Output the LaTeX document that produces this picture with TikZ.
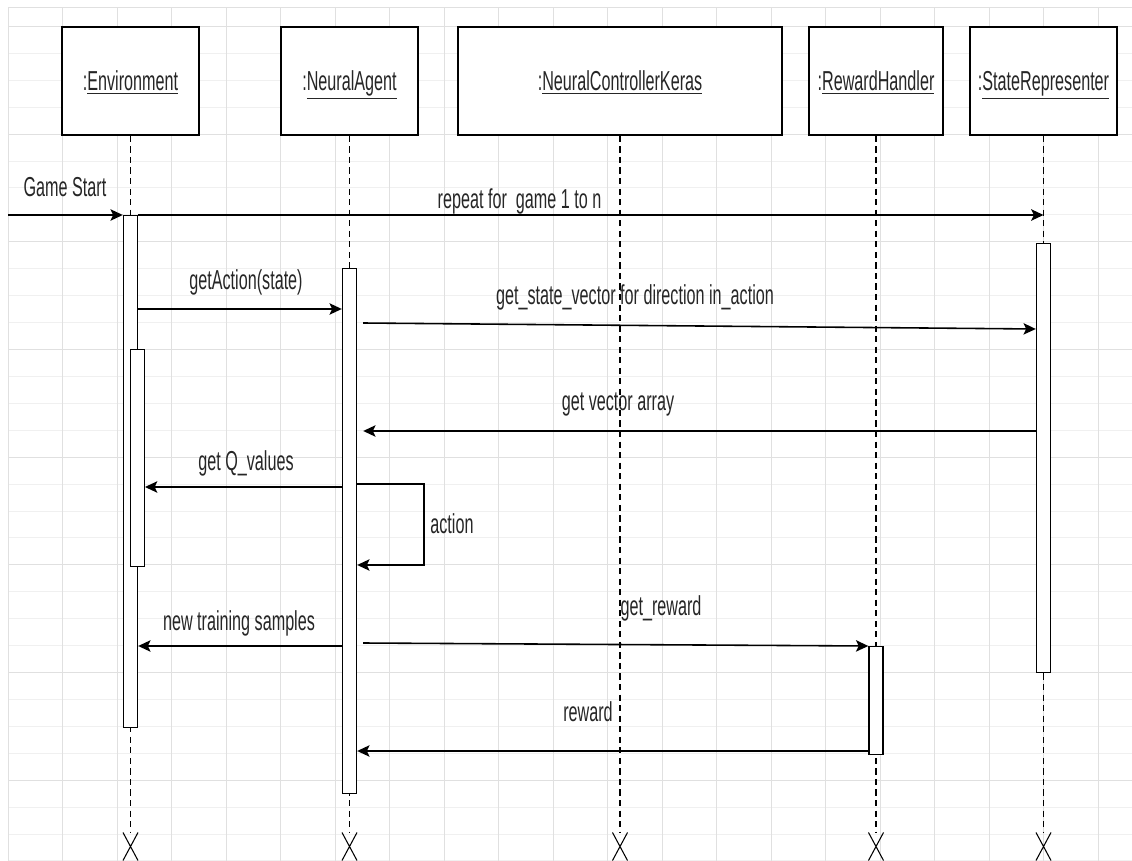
\documentclass[tikz,border=0pt]{standalone}
\usepackage{fontspec}
\setmainfont{Liberation Sans}
\usepackage{graphicx}
\usetikzlibrary{arrows.meta,shapes.misc}
\newcommand{\nrw}[1]{\scalebox{.59}[1]{#1}}

\begin{document}
\begin{tikzpicture}[
  x=0.02cm, y=-0.02cm,
  every node/.style={font=\fontsize{15.6}{18}\selectfont, text=black!85},
  objbox/.style={draw, line width=1pt, fill=white, minimum height=2.16cm, inner sep=0pt,
    text height=0.44cm, text depth=0.06cm},
  actbar/.style={draw, line width=0.8pt, fill=white, minimum width=0.28cm, inner sep=0pt, anchor=north},
  lifeline/.style={draw, line width=0.6pt, dash pattern=on 3.5pt off 2.5pt},
  msg/.style={draw, line width=0.9pt, -{Stealth[length=7pt,width=6.5pt,inset=1.5pt]}},
  lbl/.style={anchor=base, inner sep=0pt},
  destroy/.style={cross out, draw, line width=0.6pt, minimum width=0.28cm, minimum height=0.54cm, inner sep=0pt},
  gridmajor/.style={draw=black!12, line width=0.5pt},
  gridminor/.style={draw=black!6, line width=0.4pt}
]
\useasboundingbox (0,0) rectangle (1132,861);

% background grid
\begin{scope}
  \clip (8,7) rectangle (1132,861);
  \foreach \k in {0,...,32}
    \draw[gridminor] (8,{-0.6+26.92*\k}) -- (1132,{-0.6+26.92*\k});
  \foreach \k in {0,...,7}
    \draw[gridmajor] (8,{26.3+107.7*\k}) -- (1132,{26.3+107.7*\k});
  \foreach \k in {0,...,20}
    \draw[gridmajor] ({8+54.5*\k},7) -- ({8+54.5*\k},861);
  \draw[gridmajor] (8,7) -- (1132,7);
\end{scope}

% objects
\node[objbox, minimum width=2.73cm] (env)   at (130.5,81)  {\nrw{:\underline{Environment}}};
\node[objbox, minimum width=2.74cm] (agent) at (349.5,81)  {\nrw{:\underline{NeuralAgent}}};
\node[objbox, minimum width=6.48cm] (nck)   at (620,81)    {\nrw{:\underline{NeuralControllerKeras}}};
\node[objbox, minimum width=2.68cm] (rwd)   at (876,81)    {\nrw{:\underline{RewardHandler}}};
\node[objbox, minimum width=2.94cm] (srep)  at (1043.5,81) {\nrw{:\underline{StateRepresenter}}};

% lifelines
\foreach \o in {env,agent,nck,rwd,srep} {
  \node[destroy] (\o-x) at (\o.south |- 0,846.5) {};
  \draw[lifeline] (\o.south) -- (\o-x.north);
}

% activations
\node[actbar, minimum height=10.24cm] (envA)   at (env.south |- 0,215)   {};
\node[actbar, minimum height=4.34cm]  (envB)   at (137.3,349)            {};
\node[actbar, minimum height=10.5cm]  (agentA) at (agent.south |- 0,268) {};
\node[actbar, minimum height=8.58cm]  (srepA)  at (srep.south |- 0,243)  {};
\node[actbar, minimum height=2.16cm]  (rwdA)   at (rwd.south |- 0,646)   {};

\coordinate (gs) at (8,215);
\coordinate (agentOut) at ([xshift=0.12cm]agentA.east);
\coordinate (loopR) at (424,524);

% messages
\draw[msg] (gs) -- (envA.north west);
\draw[msg] (envA.north east) -- (srep.south |- envA.north);
\draw[msg] (envA.east |- 0,309) -- (agentA.west |- 0,309);
\draw[msg] (agentOut |- 0,323) -- (srepA.west |- 0,329);
\draw[msg] (srepA.west |- 0,431) -- (agentOut |- 0,431);
\draw[msg] (agentA.west |- 0,487) -- (envB.east |- 0,487);
\draw[msg] (agentA.east |- 0,484) -| (loopR) |- (agentA.east |- 0,565);
\draw[msg] (agentA.west |- 0,646) -- (envA.east |- 0,646);
\draw[msg] (agentOut |- 0,643) -- (rwdA.north west);
\draw[msg] (rwdA.west |- 0,751) -- (agentA.east |- 0,751);

% labels
\node[lbl] (gameStart)  at (65,197)    {\nrw{Game Start}};
\node[lbl] (repeatLbl)  at (519.5,209) {\nrw{repeat for\ \ game 1 to n}};
\node[lbl] (getAction)  at (246,290)   {\nrw{getAction(state)}};
\node[lbl] (getState)   at (635,305)   {\nrw{get\_state\_vector for direction in\_action}};
\node[lbl] (getVector)  at (618,410)   {\nrw{get vector array}};
\node[lbl] (getQ)       at (246,470)   {\nrw{get Q\_values}};
\node[lbl, anchor=base west] (actionLbl) at (430,533) {\nrw{action}};
\node[lbl] (newSamples) at (239,630)   {\nrw{new training samples}};
\node[lbl] (getReward)  at (661,615)   {\nrw{get\_reward}};
\node[lbl] (rewardLbl)  at (588,721)   {\nrw{reward}};
\end{tikzpicture}
\end{document}
